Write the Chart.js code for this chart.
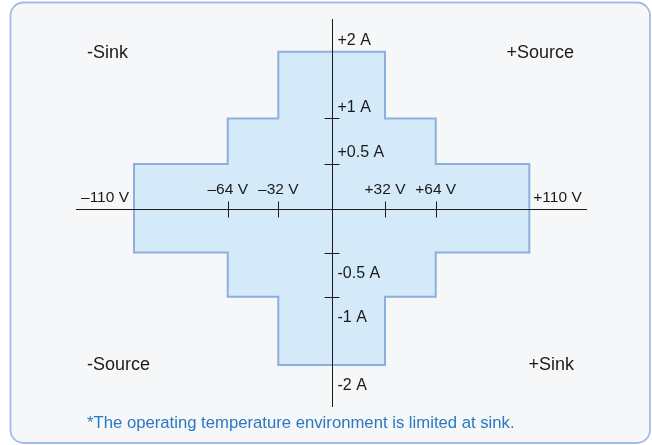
<!DOCTYPE html>
<html>
<head>
<meta charset="utf-8">
<script src="https://cdn.jsdelivr.net/npm/chart.js@4/dist/chart.umd.min.js"></script>
<style>
html,body{margin:0;padding:0;background:#ffffff;}
#wrap{width:652px;height:445px;position:relative;}
</style>
</head>
<body>
<div id="wrap"><canvas id="c" width="652" height="445"></canvas></div>
<script>
// ---- data ----
const voltageLimits = [32, 64, 110];      // V  (|V| limit of each range)
const currentLimits = [2, 1, 0.5];        // A  (|I| limit in that range)
const voltageTickMarks = [-64, -32, 32, 64];
const voltageTickLabels = ['–64 V', '–32 V', '+32 V', '+64 V'];
const voltageEdgeValues = [-110, 110];
const voltageEdgeLabels = ['–110 V', '+110 V'];
const currentTickMarks = [1, 0.5, -0.5, -1];
const currentLabelValues = [2, 1, 0.5, -0.5, -1, -2];
const currentTickLabels = ['+2 A', '+1 A', '+0.5 A', '-0.5 A', '-1 A', '-2 A'];
const quadrantLabels = ['-Sink', '+Source', '-Source', '+Sink'];
const footnote = '*The operating temperature environment is limited at sink.';

// ---- piecewise (schematic) axes: value -> fraction of axis length ----
const AXIS_STOPS = {
  x: [[-140, 0], [-110, 0.1135], [-64, 0.2969], [-32, 0.3959], [0, 0.5010],
      [32, 0.6047], [64, 0.7039], [110, 0.8871], [140, 1]],
  y: [[-2.4, 0], [-2, 0.1085], [-1, 0.2840], [-0.5, 0.3980], [0, 0.5110],
      [0.5, 0.6263], [1, 0.7436], [2, 0.9157], [2.4, 1]]
};
class PiecewiseScale extends Chart.LinearScale {
  _stops() { return AXIS_STOPS[this.id]; }
  getPixelForValue(value) {
    if (value === null || value === undefined || isNaN(value)) return NaN;
    const s = this._stops();
    let d;
    if (value <= s[0][0]) d = s[0][1];
    else if (value >= s[s.length - 1][0]) d = s[s.length - 1][1];
    else {
      for (let i = 1; i < s.length; i++) {
        if (value <= s[i][0]) {
          const t = (value - s[i - 1][0]) / (s[i][0] - s[i - 1][0]);
          d = s[i - 1][1] + t * (s[i][1] - s[i - 1][1]);
          break;
        }
      }
    }
    return this.getPixelForDecimal(d);
  }
  getValueForPixel(pixel) {
    const d = this.getDecimalForPixel(pixel);
    const s = this._stops();
    for (let i = 1; i < s.length; i++) {
      if (d <= s[i][1]) {
        const t = (d - s[i - 1][1]) / (s[i][1] - s[i - 1][1]);
        return s[i - 1][0] + t * (s[i][0] - s[i - 1][0]);
      }
    }
    return s[s.length - 1][0];
  }
}
PiecewiseScale.id = 'piecewise';
PiecewiseScale.defaults = Chart.LinearScale.defaults;
Chart.register(PiecewiseScale);

// ---- operating region boundaries built from the limit arrays ----
function upperBoundary() {
  const n = voltageLimits.length;
  const pts = [{x: -voltageLimits[n - 1], y: 0}];
  for (let k = n - 1; k >= 0; k--) {
    pts.push({x: -voltageLimits[k], y: currentLimits[k]});
    pts.push({x: k > 0 ? -voltageLimits[k - 1] : voltageLimits[0], y: currentLimits[k]});
  }
  for (let k = 1; k < n; k++) {
    pts.push({x: voltageLimits[k - 1], y: currentLimits[k]});
    pts.push({x: voltageLimits[k], y: currentLimits[k]});
  }
  pts.push({x: voltageLimits[n - 1], y: 0});
  return pts;
}
const upper = upperBoundary();
const lower = upper.map(p => ({x: p.x, y: -p.y}));

const FONT = '"Liberation Sans", Arial, Helvetica, sans-serif';
const decor = {
  id: 'decor',
  beforeDraw(chart) {
    const c = chart.ctx;
    c.save();
    c.fillStyle = '#ffffff';
    c.fillRect(0, 0, chart.width, chart.height);
    c.beginPath();
    c.roundRect(10.5, 2.5, 639.5, 440.5, 13);
    c.fillStyle = '#f5f7f8';
    c.fill();
    c.lineWidth = 1.8;
    c.strokeStyle = '#a2bde6';
    c.stroke();
    c.restore();
  },
  afterDatasetsDraw(chart) {
    const c = chart.ctx;
    const a = chart.chartArea;
    const xs = chart.scales.x, ys = chart.scales.y;
    const x0 = Math.round(xs.getPixelForValue(0)) + 0.5;
    const y0 = Math.round(ys.getPixelForValue(0)) + 0.5;
    c.save();
    c.strokeStyle = '#1a1a1a';
    c.lineWidth = 1;
    c.beginPath();
    c.moveTo(a.left, y0); c.lineTo(a.right, y0);
    c.moveTo(x0, a.top); c.lineTo(x0, a.bottom);
    voltageTickMarks.forEach(v => {
      const px = Math.round(xs.getPixelForValue(v)) + 0.5;
      c.moveTo(px, y0 - 8); c.lineTo(px, y0 + 8);
    });
    currentTickMarks.forEach(v => {
      const py = Math.round(ys.getPixelForValue(v)) + 0.5;
      c.moveTo(x0 - 8, py); c.lineTo(x0 + 7, py);
    });
    c.stroke();

    c.fillStyle = '#1a1a1a';
    c.textBaseline = 'middle';
    c.font = '15.5px ' + FONT;
    c.textAlign = 'center';
    voltageTickMarks.forEach((v, i) => {
      c.fillText(voltageTickLabels[i], xs.getPixelForValue(v), y0 - 20);
    });
    voltageEdgeValues.forEach((v, i) => {
      const px = xs.getPixelForValue(v);
      c.textAlign = v < 0 ? 'right' : 'left';
      c.fillText(voltageEdgeLabels[i], v < 0 ? px - 5 : px + 4, y0 - 12);
    });
    c.font = '16px ' + FONT;
    c.textAlign = 'left';
    currentLabelValues.forEach((v, i) => {
      const py = ys.getPixelForValue(v);
      c.fillText(currentTickLabels[i], x0 + 5, v > 0 ? py - 11 : py + 21);
    });

    c.font = '18px ' + FONT;
    const yTop = ys.getPixelForValue(currentLimits[0]) + 1;
    const yBot = ys.getPixelForValue(-currentLimits[0]) + 0.5;
    c.textAlign = 'left';
    c.fillText(quadrantLabels[0], a.left + 11, yTop);
    c.fillText(quadrantLabels[2], a.left + 11, yBot);
    c.textAlign = 'right';
    c.fillText(quadrantLabels[1], a.right - 13, yTop);
    c.fillText(quadrantLabels[3], a.right - 13, yBot);

    c.font = '16.7px ' + FONT;
    c.textAlign = 'left';
    c.fillStyle = '#2a78c2';
    c.fillText(footnote, a.left + 11, 423);
    c.restore();
  }
};

new Chart(document.getElementById('c'), {
  type: 'line',
  data: {
    datasets: [
      {data: upper, borderColor: '#8eaee0', backgroundColor: '#d5eaf8', borderWidth: 2,
       fill: 'origin', pointRadius: 0, tension: 0},
      {data: lower, borderColor: '#8eaee0', backgroundColor: '#d5eaf8', borderWidth: 2,
       fill: 'origin', pointRadius: 0, tension: 0}
    ]
  },
  options: {
    responsive: false,
    animation: false,
    layout: {padding: {left: 76, right: 65, top: 19, bottom: 38}},
    plugins: {legend: {display: false}, tooltip: {enabled: false}},
    scales: {
      x: {type: 'piecewise', min: -140, max: 140, display: false},
      y: {type: 'piecewise', min: -2.4, max: 2.4, display: false}
    }
  },
  plugins: [decor]
});
</script>
</body>
</html>
